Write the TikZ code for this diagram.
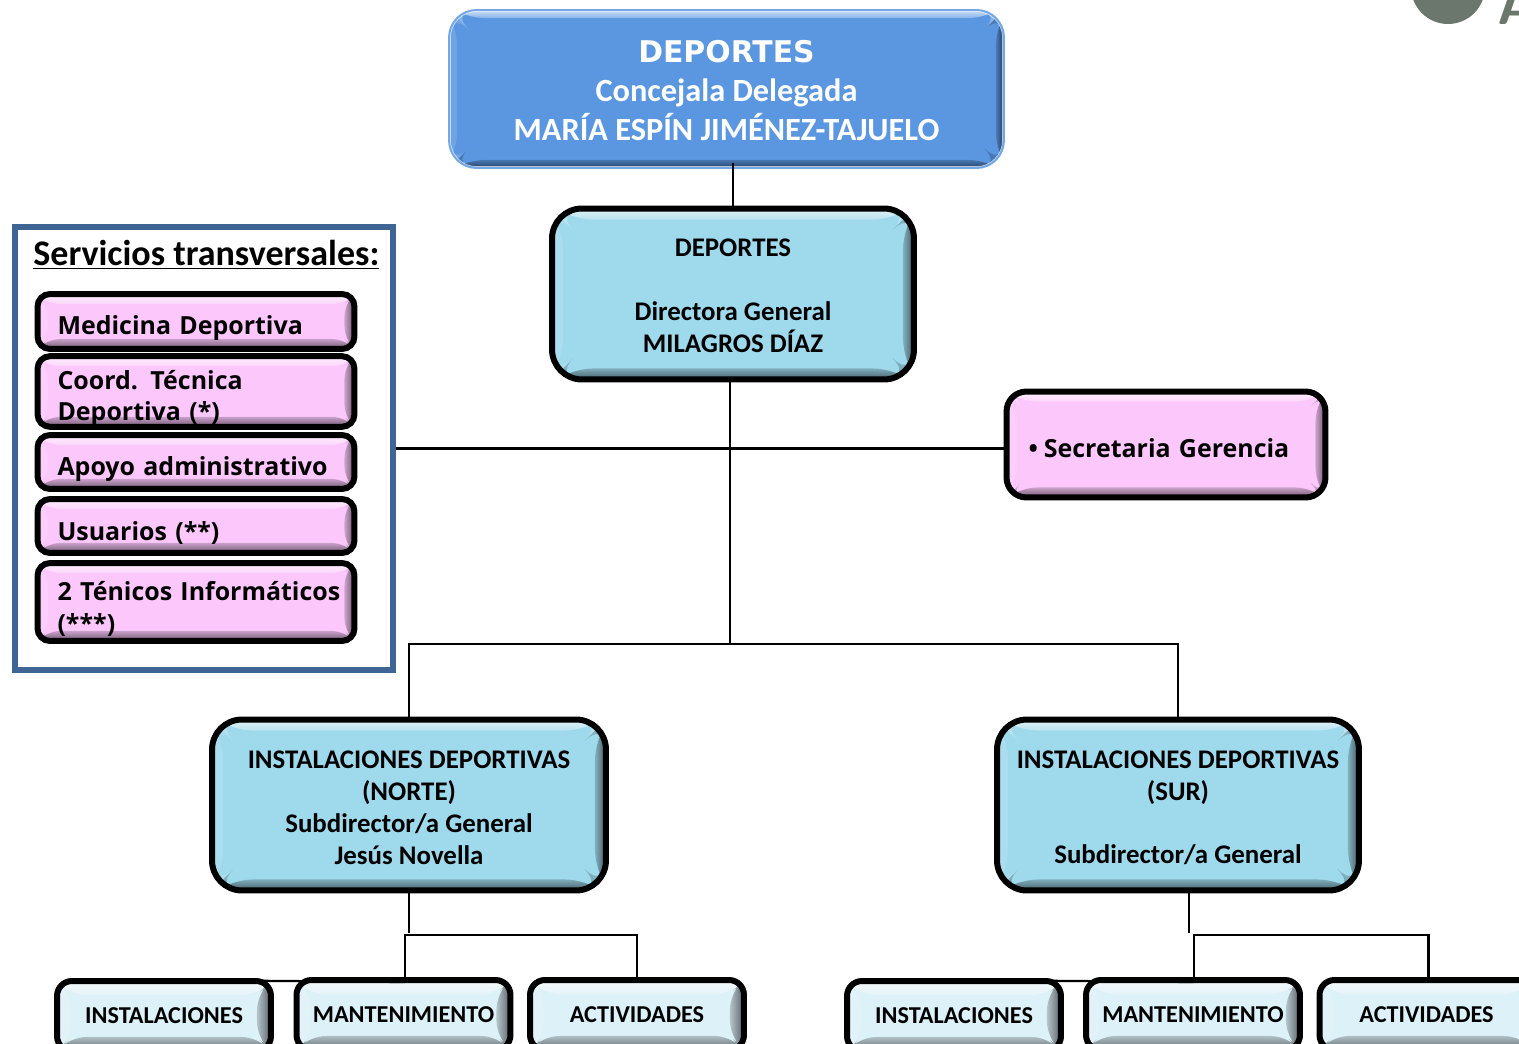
\documentclass[tikz,border=0pt]{standalone}
\usepackage{fontspec}
\setmainfont{Carlito}
\newfontfamily\sidefont{Open Sans}
\newfontfamily\headfont{DejaVu Sans}
\usetikzlibrary{calc,fadings}
\definecolor{topblue}{HTML}{5B97E1}
\definecolor{skyfill}{HTML}{9FD9EC}
\definecolor{paleice}{HTML}{DDF1F8}
\definecolor{pinkfill}{HTML}{FCC8FC}
\definecolor{panelblue}{HTML}{3E6594}
\definecolor{logogrey}{HTML}{6B766C}
\newcommand{\firstline}[1]{\rule{0pt}{#1}}
\tikzset{
    bevel/.style 2 args={path picture={
        \coordinate (nw) at (path picture bounding box.north west);
        \coordinate (ne) at (path picture bounding box.north east);
        \coordinate (sw) at (path picture bounding box.south west);
        \coordinate (se) at (path picture bounding box.south east);
        % flat tint of the four bands, then a fade towards the middle
        \fill[white,opacity=.28] (nw) -- (ne) -- ([shift={(-#1,#1)}]ne) -- ([shift={(#1,#1)}]nw) -- cycle;
        \fill[white,opacity=.12] (nw) -- ([shift={(#1,#1)}]nw) -- ([shift={(#1,-#1)}]sw) -- (sw) -- cycle;
        \fill[black,opacity=.18] (ne) -- ([shift={(-#1,#1)}]ne) -- ([shift={(-#1,-#1)}]se) -- (se) -- cycle;
        \fill[black,opacity=.2] (sw) -- (se) -- ([shift={(-#1,-#1)}]se) -- ([shift={(#1,-#1)}]sw) -- cycle;
        \fill[white,opacity=.6,path fading=south] (nw) -- (ne) -- ([shift={(-#1,#1)}]ne) -- ([shift={(#1,#1)}]nw) -- cycle;
        \fill[black,opacity=.5,path fading=west] (ne) -- ([shift={(-#1,#1)}]ne) -- ([shift={(-#1,-#1)}]se) -- (se) -- cycle;
        \fill[black,opacity=.45,path fading=north] (sw) -- (se) -- ([shift={(-#1,-#1)}]se) -- ([shift={(#1,-#1)}]sw) -- cycle;
        \draw[white,opacity=.7,line width=.07cm,rounded corners=#2] (nw) rectangle (se);
    }},
    bigbox/.style={draw=black, line width=.12cm, rounded corners=.6cm, fill=skyfill, bevel={11}{.6cm},
        align=center, font=\bfseries\fontsize{15.3}{18.1}\selectfont, inner sep=0pt},
    smallbox/.style={draw=black, line width=.12cm, rounded corners=.3cm, fill=paleice, bevel={14}{.3cm},
        minimum width=4.28cm, minimum height=1.4cm, inner sep=0pt,
        font=\bfseries\fontsize{13.8}{16}\selectfont},
    sidebox/.style={draw=black, line width=.12cm, rounded corners=.25cm, fill=pinkfill, bevel={10}{.25cm},
        minimum width=6.34cm, text width=5.54cm, align=left, inner sep=0pt,
        font=\sidefont\bfseries\fontsize{14.2}{18}\selectfont,
        execute at begin node={\firstline{#1}}},
    sidebox/.default=.66cm,
    link/.style={draw=black, line width=.045cm},
}
\begin{document}
\begin{tikzpicture}[x=.02cm,y=-.02cm]
        \useasboundingbox (0,0) rectangle (1519,1044);
        % Logo cut by the corner
        \fill[logogrey] (1448,-13) circle (37);
        \node[text=logogrey, anchor=base west, inner sep=0pt, font=\sffamily\bfseries\fontsize{32}{32}\selectfont] (logoletter) at (1497,25) {A};

        % Head of the area
        \node[rounded corners=.55cm, fill=topblue, draw=topblue!85!white, line width=.04cm, bevel={8}{.55cm}, minimum width=11.1cm, minimum height=3.16cm,
            align=center, text=white, inner sep=0pt, font=\bfseries\fontsize{18.4}{22.1}\selectfont] (concejala) at (726.5,89)
            {\firstline{.5cm}{\headfont\fontsize{17}{22.1}\selectfont DEPORTES}\\Concejala Delegada\\MARÍA ESPÍN JIMÉNEZ-TAJUELO};
        \node[bigbox, minimum width=7.24cm, minimum height=3.42cm] (directora) at (733,294)
            {\firstline{.42cm}DEPORTES\\[18pt]Directora General\\MILAGROS DÍAZ};

        % Transversal services
        \node[draw=panelblue, line width=.12cm, fill=white, minimum width=7.56cm, minimum height=8.88cm, inner sep=0pt] (servicios) at (204,448.5) {};
        \node[anchor=base west, inner sep=0pt, font=\bfseries\fontsize{20.5}{22}\selectfont] (titulo) at (33,266) {\underline{Servicios transversales:}};
        \node[sidebox, minimum height=1.1cm] (medicina) at (196,321.5) {Medicina Deportiva};
        \node[sidebox, minimum height=1.34cm] (coord) at (196,391.5) {Coord. Técnica\\Deportiva (*)};
        \node[sidebox, minimum height=1.08cm] (apoyo) at (196,462) {Apoyo administrativo};
        \node[sidebox, minimum height=1.08cm] (usuarios) at (196,526) {Usuarios (**)};
        \node[sidebox, minimum height=1.56cm] (tecnicos) at (196,602) {\mbox{2 Ténicos Informáticos}\\(***)};

        % Secretary
        \node[sidebox=.52cm, minimum width=6.38cm, text width=5.5cm, minimum height=2.12cm, rounded corners=.4cm, bevel={10}{.4cm}] (secretaria) at (1166,444.5) {•\hspace{.12cm}Secretaria Gerencia};

        % Sub-directions
        \node[bigbox, minimum width=7.88cm, minimum height=3.42cm] (norte) at (409,805)
            {\firstline{.46cm}INSTALACIONES DEPORTIVAS\\(NORTE)\\Subdirector/a General\\Jesús Novella};
        \node[bigbox, minimum width=7.24cm, minimum height=3.42cm] (sur) at (1178,805)
            {\firstline{.46cm}INSTALACIONES DEPORTIVAS\\(SUR)\\[18pt]Subdirector/a General};

        % Bottom row
        \node[smallbox] (instnorte) at (164,1016) {INSTALACIONES};
        \node[smallbox] (mantnorte) at (403.5,1015) {MANTENIMIENTO};
        \node[smallbox] (actnorte) at (637,1015) {ACTIVIDADES};
        \node[smallbox] (instsur) at (954,1016) {INSTALACIONES};
        \node[smallbox] (mantsur) at (1193,1015) {MANTENIMIENTO};
        \node[smallbox] (actsur) at (1426.5,1015) {ACTIVIDADES};

        % Connect nodes
        \coordinate (reparto) at (730,644);
        \coordinate (ramanorte) at (405,935);
        \coordinate (ramasur) at (1194,935);
        \draw[link] (directora.north) -- ([yshift=.12cm]directora.north |- concejala.south);
        \draw[link] (reparto |- directora.south) -- (reparto);
        \draw[link] (servicios.east) -- (secretaria.west |- servicios.east);
        \draw[link] (norte.north) |- (reparto) -| (sur.north);

        \draw[link] (norte.south) -- (norte.south |- 0,933);
        \draw[link] (mantnorte.north -| ramanorte) -- (ramanorte) -| (actnorte.north);
        \draw[link] (instnorte.north) ++(0,2) -- (ramanorte |- 0,982);

        \draw[link] (1189,891) -- (1189,933);
        \draw[link] (mantsur.north -| ramasur) -- (ramasur) -| ([xshift=.04cm]actsur.north);
        \draw[link] (instsur.north) ++(0,2) -- (ramasur |- 0,982);
    \end{tikzpicture}
\end{document}
